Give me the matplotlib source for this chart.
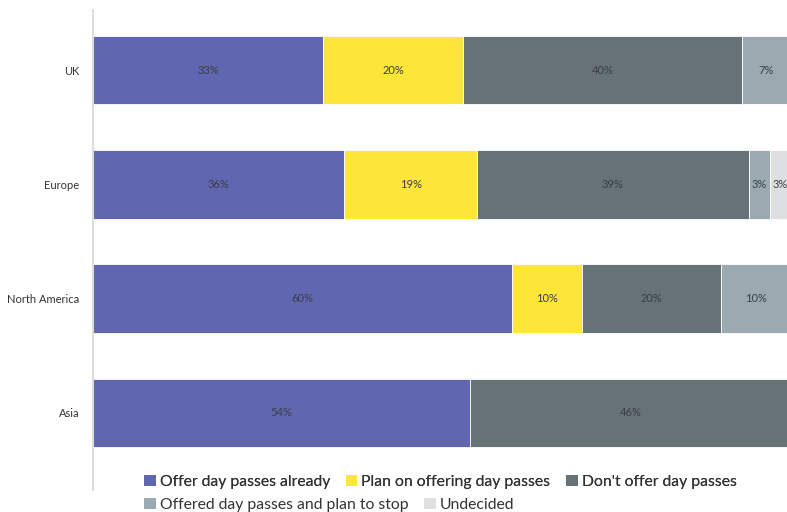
import matplotlib.pyplot as plt
from matplotlib.patches import Patch

regions = ["UK", "Europe", "North America", "Asia"]
series = [
    "Offer day passes already",
    "Plan on offering day passes",
    "Don't offer day passes",
    "Offered day passes and plan to stop",
    "Undecided",
]
offer_already = [33, 36, 60, 54]
plan_offering = [20, 19, 10, 0]
dont_offer = [40, 39, 20, 46]
plan_to_stop = [7, 3, 10, 0]
undecided = [0, 3, 0, 0]
colors = ["#6066AF", "#FDE53A", "#667276", "#9AAAB0", "#DEDFE0"]

plt.rcParams["font.family"] = ["Lato", "DejaVu Sans"]

fig = plt.figure(figsize=(7.87, 5.12), dpi=100)
ax = fig.add_axes([93 / 787, 22 / 512, 698 / 787, 480 / 512])

values = [offer_already, plan_offering, dont_offer, plan_to_stop, undecided]
ypos = list(range(len(regions)))
left = [0] * len(regions)
for vals, color in zip(values, colors):
    bars = ax.barh(ypos, vals, left=left, height=0.6, color=color,
                   edgecolor="white", linewidth=0.6)
    for bar, v in zip(bars, vals):
        if v > 0:
            ax.text(bar.get_x() + bar.get_width() / 2, bar.get_y() + bar.get_height() / 2,
                    f"{v}%", ha="center", va="center", fontsize=8, color="#3a3f44")
    left = [a + b for a, b in zip(left, vals)]

ax.set_xlim(0, 100)
ax.set_ylim(3.674, -0.525)
ax.set_yticks(ypos)
ax.set_yticklabels(regions, fontsize=8, color="#333333")
ax.tick_params(axis="y", length=0, pad=10)
ax.set_xticks([])
for side in ["top", "right", "bottom"]:
    ax.spines[side].set_visible(False)
ax.spines["left"].set_color("#dddddd")
ax.spines["left"].set_linewidth(1.5)

# legend flows over two rows under the bars
handles = [Patch(facecolor=c, edgecolor="none") for c in colors]
leg_kw = dict(frameon=False, fontsize=11.3, handlelength=0.75, handleheight=0.75,
              handletextpad=0.25, columnspacing=1.0, borderpad=0, labelcolor="#333333",
              loc="center left")
leg1 = fig.legend(handles[:3], series[:3], ncol=3,
                  bbox_to_anchor=(136 / 787, 1 - 482 / 512), **leg_kw)
fig.add_artist(leg1)
fig.legend(handles[3:], series[3:], ncol=2,
           bbox_to_anchor=(136 / 787, 1 - 505 / 512), **leg_kw)

fig.savefig("out.png", dpi=100)
